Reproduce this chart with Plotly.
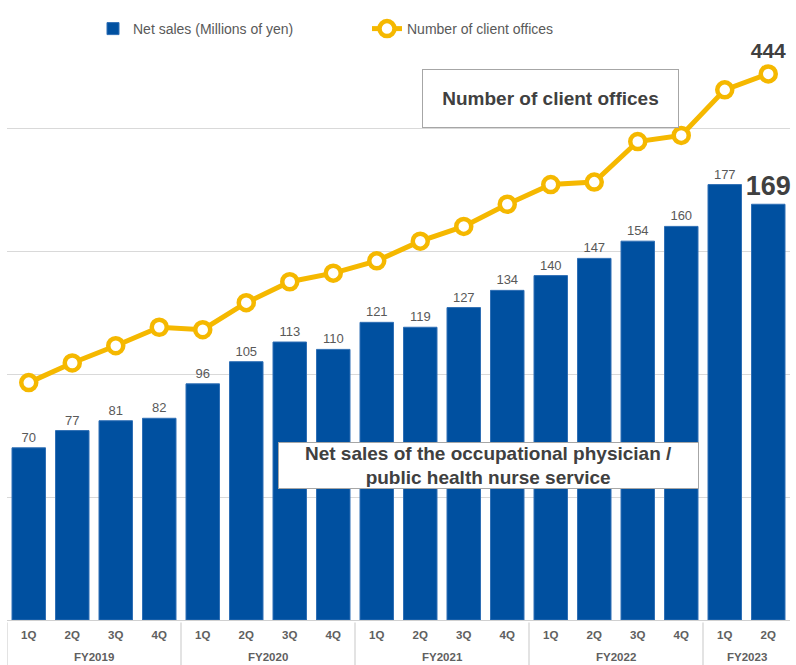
import plotly.graph_objects as go

fiscal_years = ["FY2019", "FY2020", "FY2021", "FY2022", "FY2023"]
quarters_per_year = [4, 4, 4, 4, 2]
quarters = ["1Q", "2Q", "3Q", "4Q"] * 4 + ["1Q", "2Q"]
net_sales = [70, 77, 81, 82, 96, 105, 113, 110, 121, 119, 127, 134, 140, 147, 154, 160, 177, 169]
client_offices = [193, 209, 223, 238, 236, 258, 275, 282, 292, 308, 320, 338, 354, 356, 389, 394, 431, 444]

FONT = "Liberation Sans, Arial, sans-serif"
BLUE = "#0050A0"
GOLD = "#F5B800"
GRAY = "#595959"
DARK = "#404040"
LINE_GRAY = "#d0d0d0"

xpos = list(range(len(quarters)))

bar_text = [str(v) for v in net_sales]
bar_text[-1] = "<b>" + bar_text[-1] + "</b>"
bar_font_size = [13] * (len(net_sales) - 1) + [27]
bar_font_color = [GRAY] * (len(net_sales) - 1) + [DARK]

line_text = [""] * (len(client_offices) - 1) + ["<b>" + str(client_offices[-1]) + "</b>"]

fig = go.Figure()
fig.add_trace(go.Bar(
    x=xpos, y=net_sales, name="Net sales (Millions of yen)",
    marker=dict(color=BLUE, line=dict(color="#2f6fb5", width=1)),
    text=bar_text, textposition="outside", cliponaxis=False, constraintext="none",
    textfont=dict(family=FONT, size=bar_font_size, color=bar_font_color),
    yaxis="y", legend="legend",
))
fig.add_trace(go.Scatter(
    x=xpos, y=client_offices, name="Number of client offices",
    mode="lines+markers+text",
    line=dict(color=GOLD, width=5),
    marker=dict(size=15, color="white", line=dict(color=GOLD, width=4.5)),
    text=line_text, textposition="top center", cliponaxis=False,
    textfont=dict(family=FONT, size=21, color=DARK),
    yaxis="y2", legend="legend2",
))

# group labels and dividers below the axis
shapes = []
annotations = []
start = 0
bounds = [-0.5]
for fy, n in zip(fiscal_years, quarters_per_year):
    center = start + (n - 1) / 2
    annotations.append(dict(xref="x", yref="paper", x=center, y=(620 - 657) / 615,
                            xanchor="center", yanchor="middle", text="<b>" + fy + "</b>",
                            showarrow=False,
                            font=dict(family=FONT, size=11.5, color="#606060")))
    start += n
    bounds.append(start - 0.5)
for b in bounds[:-1]:
    shapes.append(dict(type="line", xref="x", yref="paper", x0=b, x1=b,
                       y0=-0.004, y1=-0.08, line=dict(color=LINE_GRAY, width=1.2)))

annotations += [
    dict(xref="paper", yref="paper", x=(550 - 7) / 783, y=(620 - 99) / 615,
         xanchor="center", yanchor="middle",
         text="<b>Number of client offices</b>", showarrow=False,
         font=dict(family=FONT, size=19, color=DARK),
         bgcolor="white", bordercolor="#a6a6a6", borderwidth=1,
         width=253, height=55, align="center"),
    dict(xref="paper", yref="paper", x=(488 - 7) / 783, y=(620 - 465) / 615,
         xanchor="center", yanchor="middle",
         text="<b>Net sales of the occupational physician /<br>public health nurse service</b>",
         showarrow=False,
         font=dict(family=FONT, size=19, color=DARK),
         bgcolor="white", bordercolor="#a6a6a6", borderwidth=1,
         width=417, height=43, align="center"),
]

legend_common = dict(orientation="h", yanchor="middle", y=(620 - 29) / 615,
                     xanchor="left", bgcolor="rgba(0,0,0,0)",
                     font=dict(family=FONT, size=14, color=GRAY), itemwidth=30)

fig.update_layout(
    width=796, height=665,
    margin=dict(l=7, r=6, t=5, b=45),
    paper_bgcolor="white", plot_bgcolor="white",
    font=dict(family=FONT, color=GRAY, size=12),
    bargap=0.23,
    showlegend=True,
    legend=dict(x=(93 - 7) / 783, **legend_common),
    legend2=dict(x=(367 - 7) / 783, **legend_common),
    xaxis=dict(range=[-0.5, len(quarters) - 0.5], tickmode="array", tickvals=xpos,
               ticktext=["<b>" + q + "</b>" for q in quarters],
               showline=True, linecolor=LINE_GRAY, linewidth=1.2,
               ticks="outside", ticklen=4, tickcolor="rgba(0,0,0,0)",
               tickfont=dict(family=FONT, size=11.5, color="#606060"), showgrid=False,
               zeroline=False, fixedrange=True),
    yaxis=dict(range=[0, 250], dtick=50, showgrid=True, gridcolor="#d9d9d9", gridwidth=1,
               showticklabels=False, zeroline=False),
    yaxis2=dict(range=[0, 500], overlaying="y", side="right", showgrid=False,
                showticklabels=False, zeroline=False),
    shapes=shapes,
    annotations=annotations,
)

fig.write_html("out.html", config={"displayModeBar": False},
               post_script="document.body.style.margin='0';")
